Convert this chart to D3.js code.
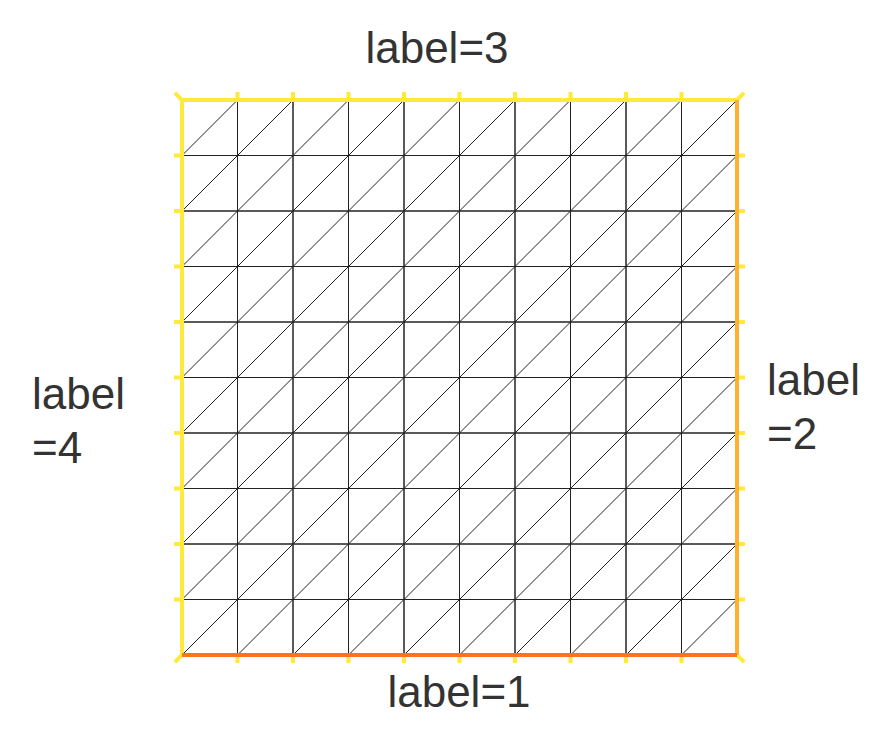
<!DOCTYPE html>
<html><head><meta charset="utf-8">
<script src="https://cdn.jsdelivr.net/npm/d3@7"></script>
<style>body{margin:0;background:#fff}</style>
</head><body><div id="container"></div>
<script>
// Mesh: n x n unit square, boundary labels
var n = 10
var nodes = d3.range(n + 1).map(i => i / n)
var boundaries = [
  {label: 1, side: "bottom", color: "#ff7320"},
  {label: 2, side: "right", color: "#ffb12e"},
  {label: 3, side: "top", color: "#ffe93b"},
  {label: 4, side: "left", color: "#ffe93b"}
]
var tickColor = "#ffe93b"

var svg = d3.select("#container").append("svg")
    .attr("width", 882).attr("height", 731)

var x = d3.scaleLinear().domain([0, 1]).range([182, 737])
var y = d3.scaleLinear().domain([0, 1]).range([655, 100])

var g = svg.append("g")
// grid lines + diagonals
var cells = []
for (var i = 0; i < n; i++) for (var j = 0; j < n; j++) cells.push([nodes[i], nodes[j], nodes[i+1], nodes[j+1]])
g.selectAll(".cell").data(cells).enter().append("path")
    .attr("d", d => `M${x(d[0])},${y(d[1])}L${x(d[2])},${y(d[1])}L${x(d[2])},${y(d[3])}L${x(d[0])},${y(d[3])}ZM${x(d[0])},${y(d[1])}L${x(d[2])},${y(d[3])}`)
    .attr("fill", "none").attr("stroke", "#222").attr("stroke-width", 1)

// ticks on boundary nodes
var t = 8
var ticks = []
nodes.slice(1, -1).forEach(v => {
  ticks.push([x(v), y(0), 0, t], [x(v), y(1), 0, -t], [x(0), y(v), -t, 0], [x(1), y(v), t, 0])
})
var c = t * 0.9
ticks.push([x(0), y(0), -c, c], [x(1), y(0), c, c], [x(1), y(1), c, -c], [x(0), y(1), -c, -c])
g.selectAll(".tick").data(ticks).enter().append("line")
    .attr("x1", d => d[0]).attr("y1", d => d[1])
    .attr("x2", d => d[0] + d[2]).attr("y2", d => d[1] + d[3])
    .attr("stroke", tickColor).attr("stroke-width", 4)

// boundary edges
var ends = {
  bottom: [[0, 0], [1, 0]], right: [[1, 0], [1, 1]],
  top: [[0, 1], [1, 1]], left: [[0, 0], [0, 1]]
}
var order = ["left", "top", "right", "bottom"]
order.forEach(s => {
  var b = boundaries.find(d => d.side == s)
  var e = ends[s]
  g.append("line")
    .attr("x1", x(e[0][0])).attr("y1", y(e[0][1]))
    .attr("x2", x(e[1][0])).attr("y2", y(e[1][1]))
    .attr("stroke", b.color).attr("stroke-width", 4)
})

// labels
var font = "Liberation Sans, Arial, sans-serif"
function txt(lines, px, py, anchor) {
  var tx = svg.append("text").attr("font-family", font).attr("font-size", 44)
    .attr("fill", "#333").attr("text-anchor", anchor)
  lines.forEach((l, k) => tx.append("tspan").attr("x", px).attr("y", py + k * 54).text(l))
}
txt(["label=1"], 459, 707, "middle")
txt(["label=3"], 437, 63, "middle")
txt(["label", "=2"], 767, 395, "start")
txt(["label", "=4"], 32, 409, "start")
</script></body></html>
